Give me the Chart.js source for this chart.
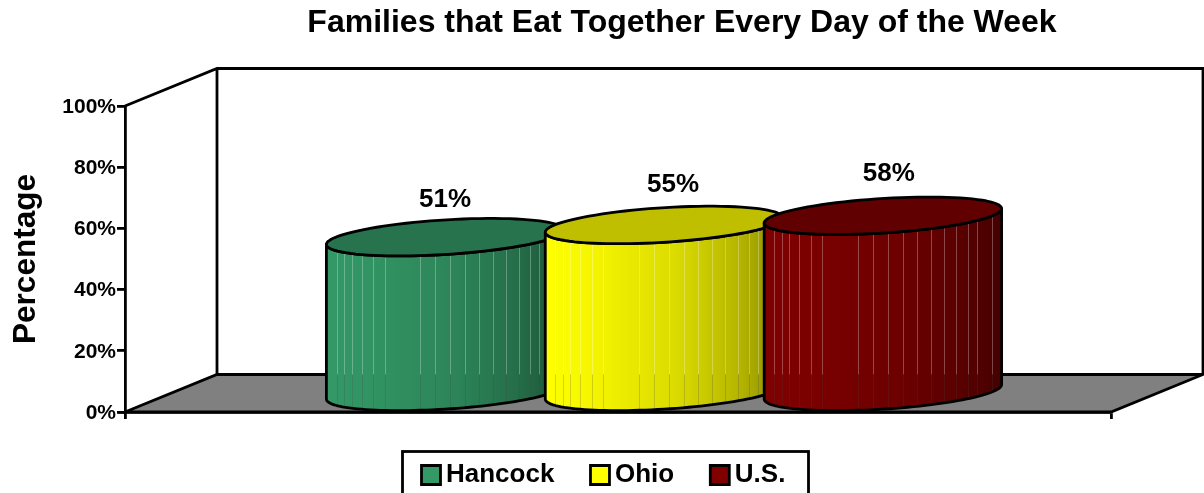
<!DOCTYPE html>
<html>
<head>
<meta charset="utf-8">
<style>
  html, body { margin: 0; padding: 0; background: #fff; overflow: hidden; }
  canvas { display: block; }
</style>
<script src="https://cdn.jsdelivr.net/npm/chart.js@4"></script>
</head>
<body>
<canvas id="chart" width="1204" height="493"></canvas>
<script>
const categories = [''];
const seriesNames = ['Hancock', 'Ohio', 'U.S.'];
const seriesValues = [[51], [55], [58]];
const seriesColors = ['#339966', '#ffff00', '#800000'];
const yTicks = { min: 0, max: 100, step: 20 };

// label nudges off the cylinder centre, seen in the reference
const labelNudgeX = [0, 9, 6];
const labelNudgeY = [-37.5, -40.5, -41.5];
// seams of the 3d cylinder, as fraction of its width
const seams = [.043, .074, .106, .148, .197, .245, .396, .459, .522, .585, .644, .703, .758, .81, .859, .896, .959];

const FONT = '"Liberation Sans", Arial, sans-serif';
const DEPTH_X = 92, DEPTH_Y = 37.5;
const LINE = 2.8;

function shade(hex, f) {
  const n = parseInt(hex.slice(1), 16);
  const c = [n >> 16, (n >> 8) & 255, n & 255].map(v => Math.round(v * f));
  return `rgb(${c[0]},${c[1]},${c[2]})`;
}

function drawCylinder(ctx, bar, color, area) {
  const ux = bar.width / 2, a = DEPTH_X / 2, b = DEPTH_Y / 2;
  const cx = bar.x + a, topY = bar.y - b, botY = bar.base - b;
  const t0 = Math.atan2(a, ux);
  const halfW = Math.hypot(ux, a);
  const pt = (t, y) => [cx + ux * Math.cos(t) + a * Math.sin(t), y - b * Math.sin(t)];

  // side
  const side = new Path2D();
  for (let i = 0; i <= 60; i++) {
    const p = pt(t0 + Math.PI + Math.PI * i / 60, topY);
    i ? side.lineTo(p[0], p[1]) : side.moveTo(p[0], p[1]);
  }
  for (let i = 60; i >= 0; i--) {
    const p = pt(t0 + Math.PI + Math.PI * i / 60, botY);
    side.lineTo(p[0], p[1]);
  }
  side.closePath();
  const g = ctx.createLinearGradient(cx - halfW, 0, cx + halfW, 0);
  g.addColorStop(0, shade(color, 1));
  g.addColorStop(.2, shade(color, .96));
  g.addColorStop(.55, shade(color, .86));
  g.addColorStop(.8, shade(color, .72));
  g.addColorStop(1, shade(color, .55));
  ctx.fillStyle = g;
  ctx.fill(side);

  ctx.save();
  ctx.clip(side);
  ctx.lineWidth = 1;
  const floorY = area.bottom - DEPTH_Y;
  seams.forEach(s => {
    const x = Math.round(cx - halfW + s * 2 * halfW) + .5;
    ctx.strokeStyle = 'rgba(255,255,255,.28)';
    ctx.beginPath(); ctx.moveTo(x, topY - 40); ctx.lineTo(x, floorY); ctx.stroke();
    ctx.strokeStyle = 'rgba(70,70,70,.22)';
    ctx.beginPath(); ctx.moveTo(x, floorY); ctx.lineTo(x, bar.base + 5); ctx.stroke();
  });
  ctx.restore();

  ctx.strokeStyle = '#000';
  ctx.lineWidth = LINE;
  ctx.lineJoin = 'round';
  ctx.stroke(side);

  // top
  ctx.beginPath();
  for (let i = 0; i <= 90; i++) {
    const p = pt(Math.PI * 2 * i / 90, topY);
    i ? ctx.lineTo(p[0], p[1]) : ctx.moveTo(p[0], p[1]);
  }
  ctx.closePath();
  ctx.fillStyle = shade(color, .75);
  ctx.fill();
  ctx.stroke();
}

const box3d = {
  id: 'box3d',
  afterLayout(chart) {
    // title sits off centre, legend has its own frame
    chart.titleBlock.left = 160;
    chart.titleBlock.right = 1204;
    const lg = chart.legend;
    const pad = lg.options.labels.padding;
    lg.left = 329;
    lg.right = 429 * 2 - lg.left - pad + lg.lineWidths[0];
    lg.top = 418.4;
    lg.bottom = 493;
  },
  beforeDatasetsDraw(chart) {
    const { ctx, chartArea: ca } = chart;
    const l = ca.left, r = ca.right, t = ca.top, b = ca.bottom;
    ctx.save();
    ctx.fillStyle = '#808080';
    ctx.beginPath();
    ctx.moveTo(l, b);
    ctx.lineTo(l + DEPTH_X, b - DEPTH_Y);
    ctx.lineTo(r + DEPTH_X, b - DEPTH_Y);
    ctx.lineTo(r, b);
    ctx.closePath();
    ctx.fill();
    ctx.strokeStyle = '#000';
    ctx.lineWidth = LINE;
    ctx.stroke();
    ctx.beginPath();
    ctx.moveTo(l, t);
    ctx.lineTo(l + DEPTH_X, t - DEPTH_Y);
    ctx.lineTo(r + DEPTH_X, t - DEPTH_Y);
    ctx.lineTo(r + DEPTH_X, b - DEPTH_Y);
    ctx.moveTo(l + DEPTH_X, t - DEPTH_Y);
    ctx.lineTo(l + DEPTH_X, b - DEPTH_Y);
    ctx.stroke();
    ctx.restore();
  },
  beforeDatasetDraw() {
    return false;
  },
  afterDatasetsDraw(chart) {
    const { ctx, chartArea } = chart;
    ctx.save();
    chart.data.datasets.forEach((ds, i) => {
      drawCylinder(ctx, chart.getDatasetMeta(i).data[0], seriesColors[i], chartArea);
    });
    ctx.font = 'bold 26px ' + FONT;
    ctx.fillStyle = '#000';
    ctx.textAlign = 'center';
    ctx.textBaseline = 'middle';
    chart.data.datasets.forEach((ds, i) => {
      const bar = chart.getDatasetMeta(i).data[0];
      const x = bar.x + DEPTH_X / 2 + labelNudgeX[i];
      const y = bar.y - DEPTH_Y / 2 + labelNudgeY[i];
      ctx.fillText(ds.data[0] + '%', x, y);
    });
    ctx.restore();
  },
  afterDraw(chart) {
    const { ctx } = chart;
    ctx.save();
    ctx.strokeStyle = '#000';
    ctx.lineWidth = LINE;
    ctx.strokeRect(402.5, 451.5, 406, 60);
    ctx.restore();
  }
};

new Chart(document.getElementById('chart'), {
  type: 'bar',
  data: {
    labels: categories,
    datasets: seriesNames.map((name, i) => ({
      label: name,
      data: seriesValues[i],
      backgroundColor: seriesColors[i],
      borderColor: '#000',
      borderWidth: LINE,
      categoryPercentage: 0.666,
      barPercentage: 1
    }))
  },
  plugins: [box3d],
  options: {
    responsive: false,
    animation: false,
    layout: { padding: { left: 0, right: 93, top: 0, bottom: 0 } },
    plugins: {
      tooltip: { enabled: false },
      title: {
        display: true,
        text: 'Families that Eat Together Every Day of the Week',
        color: '#000',
        font: { family: FONT, size: 32, weight: 'bold' },
        padding: { top: 4, bottom: 63.6 }
      },
      legend: {
        display: true,
        position: 'bottom',
        labels: {
          color: '#000',
          font: { family: FONT, size: 26, weight: 'bold' },
          usePointStyle: true,
          pointStyle: 'rect',
          boxWidth: 4,
          boxHeight: 19,
          padding: 43.6
        }
      }
    },
    scales: {
      x: {
        afterFit: s => { s.height = 1.4; },
        ticks: { display: false },
        grid: { color: '#000', lineWidth: LINE, drawOnChartArea: false, tickLength: 7 },
        border: { color: '#000', width: LINE }
      },
      y: {
        min: yTicks.min,
        max: yTicks.max,
        afterFit: s => { s.width = 125; },
        ticks: {
          stepSize: yTicks.step,
          color: '#000',
          padding: 1,
          labelOffset: 1,
          font: { family: FONT, size: 21, weight: 'bold' },
          callback: v => v + '%'
        },
        grid: { color: '#000', lineWidth: LINE, drawOnChartArea: false, tickLength: 8 },
        border: { color: '#000', width: LINE },
        title: {
          display: true,
          text: 'Percentage',
          color: '#000',
          font: { family: FONT, size: 31.5, weight: 'bold' },
          padding: { top: 7, bottom: 0 }
        }
      }
    }
  }
});
</script>
</body>
</html>
